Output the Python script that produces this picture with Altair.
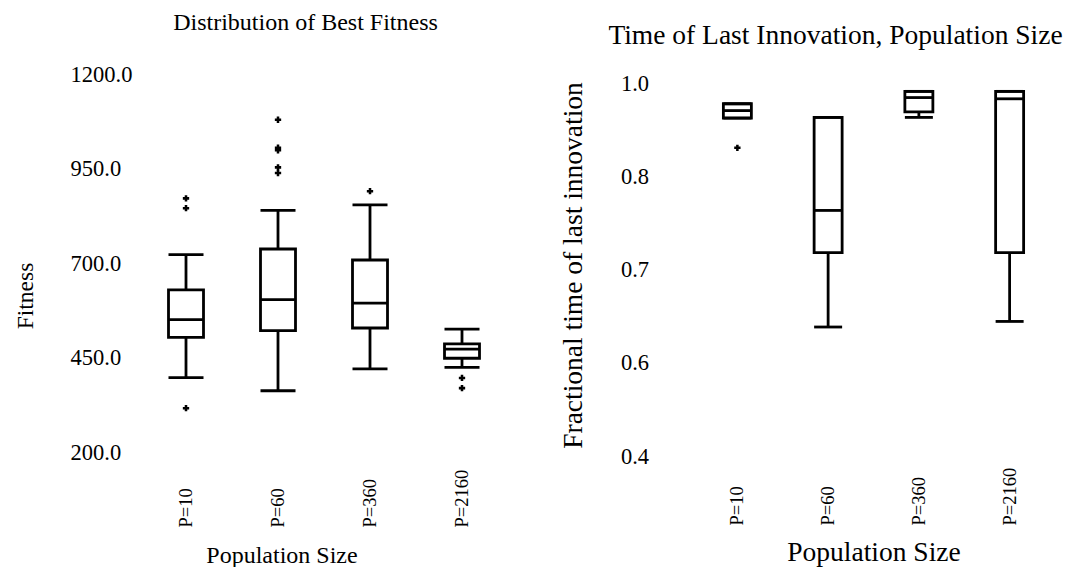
import altair as alt
import pandas as pd

FONT = "Liberation Serif"

categories = ["P=10", "P=60", "P=360", "P=2160"]

# Left panel: Distribution of Best Fitness
fit_low = [397, 362, 420, 424]
fit_q1 = [503, 521, 528, 448]
fit_med = [550, 603, 594, 472]
fit_q3 = [629, 737, 708, 486]
fit_high = [722, 839, 854, 525]
fit_out_cat = ["P=10", "P=10", "P=10", "P=60", "P=60", "P=60", "P=60", "P=60",
               "P=360", "P=2160", "P=2160"]
fit_out_val = [871, 845, 316, 1079, 1005, 998, 953, 938, 890, 396, 369]
fit_ticks = [200, 450, 700, 950, 1200]

# Right panel: Time of Last Innovation
inn_low = [0.945, 0.608, 0.946, 0.617]
inn_q1 = [0.945, 0.728, 0.955, 0.728]
inn_med = [0.957, 0.796, 0.978, 0.976]
inn_q3 = [0.968, 0.946, 0.988, 0.988]
inn_high = [0.968, 0.946, 0.988, 0.988]
inn_out_cat = ["P=10"]
inn_out_val = [0.897]
inn_ticks = [0.4, 0.55, 0.7, 0.85, 1.0]


def panel(low, q1, med, q3, high, out_cat, out_val, ydomain, yticks,
          width, height, box_w, title, title_size, title_offset, title_dx,
          ytitle, ytitle_size, ylab_pad, ytitle_pad, ytitle_y,
          xtitle_size, xlab_pad, xtitle_pad, xtitle_x):
    stats = pd.DataFrame({"cat": categories, "low": low, "q1": q1, "med": med,
                          "q3": q3, "high": high})
    outs = pd.DataFrame({"cat": out_cat, "val": out_val})

    xkw = dict(labelAngle=270, labelAlign="left",
               labelBaseline="middle", labelPadding=xlab_pad,
               labelFontSize=18.5, labelFont=FONT,
               labelColor="black",
               title="Population Size", titleFont=FONT,
               titleFontSize=xtitle_size,
               titleFontWeight="normal", titleColor="black",
               titlePadding=xtitle_pad,
               domain=False, ticks=False, grid=False)
    if xtitle_x is not None:
        xkw["titleX"] = xtitle_x
    xenc = alt.X("cat:N", sort=categories,
                 scale=alt.Scale(type="band", domain=categories,
                                 paddingInner=0, paddingOuter=0),
                 axis=alt.Axis(**xkw))
    yscale = alt.Scale(domain=ydomain, nice=False, zero=False)
    ykw = dict(values=yticks, format=".1f", labelAlign="left",
               labelPadding=ylab_pad, labelFontSize=22.5, labelFont=FONT,
               labelColor="black", title=ytitle, titleFont=FONT,
               titleFontSize=ytitle_size, titleFontWeight="normal",
               titleColor="black", titlePadding=ytitle_pad,
               domain=False, ticks=False, grid=False)
    if ytitle_y is not None:
        ykw["titleY"] = ytitle_y
    yaxis = alt.Axis(**ykw)

    tick_style = dict(size=box_w, thickness=2.8, color="black",
                      orient="horizontal", opacity=1)

    base = alt.Chart(stats)
    whisk = base.mark_rule(color="black", strokeWidth=2.8, opacity=1).encode(
        x=xenc, y=alt.Y("low:Q", scale=yscale, axis=yaxis), y2="high:Q")
    box = base.mark_bar(size=box_w, fill="white", stroke="black",
                        strokeWidth=2.8, opacity=1).encode(
        x=xenc, y=alt.Y("q1:Q", scale=yscale, axis=yaxis), y2="q3:Q")
    cap_lo = base.mark_tick(**tick_style).encode(
        x=xenc, y=alt.Y("low:Q", scale=yscale, axis=yaxis))
    cap_hi = base.mark_tick(**tick_style).encode(
        x=xenc, y=alt.Y("high:Q", scale=yscale, axis=yaxis))
    median = base.mark_tick(**tick_style).encode(
        x=xenc, y=alt.Y("med:Q", scale=yscale, axis=yaxis))
    pts = alt.Chart(outs).mark_point(shape="cross", filled=True, size=40,
                                     color="black", opacity=1).encode(
        x=xenc, y=alt.Y("val:Q", scale=yscale, axis=yaxis))

    return alt.layer(whisk, box, cap_lo, cap_hi, median, pts).properties(
        width=width, height=height,
        title=alt.TitleParams(title, font=FONT, fontSize=title_size,
                              fontWeight="normal", color="black",
                              anchor="middle", offset=title_offset,
                              dx=title_dx))


left = panel(fit_low, fit_q1, fit_med, fit_q3, fit_high, fit_out_cat,
             fit_out_val, [200, 1200], fit_ticks, 368, 378, 35,
             "Distribution of Best Fitness", 24, 28, -18.5,
             "Fitness", 23.5, 70, 33, 221.5,
             24, 75, 16, 141.5)

right = panel(inn_low, inn_q1, inn_med, inn_q3, inn_high, inn_out_cat,
              inn_out_val, [0.4, 1.0160], inn_ticks, 363, 382, 28,
              "Time of Last Innovation, Population Size", 27.5, 23, -38,
              "Fractional time of last innovation", 27.5, 71.6, 33, None,
              27.5, 69, 13, None)

chart = alt.hconcat(left, right, spacing=51).properties(
    padding={"left": 5, "top": 3, "right": 0, "bottom": 0}
).configure(
    background="white",
    view=alt.ViewConfig(stroke="transparent", strokeWidth=0),
)

chart.save("out.html", embed_options={"renderer": "svg", "actions": False})
